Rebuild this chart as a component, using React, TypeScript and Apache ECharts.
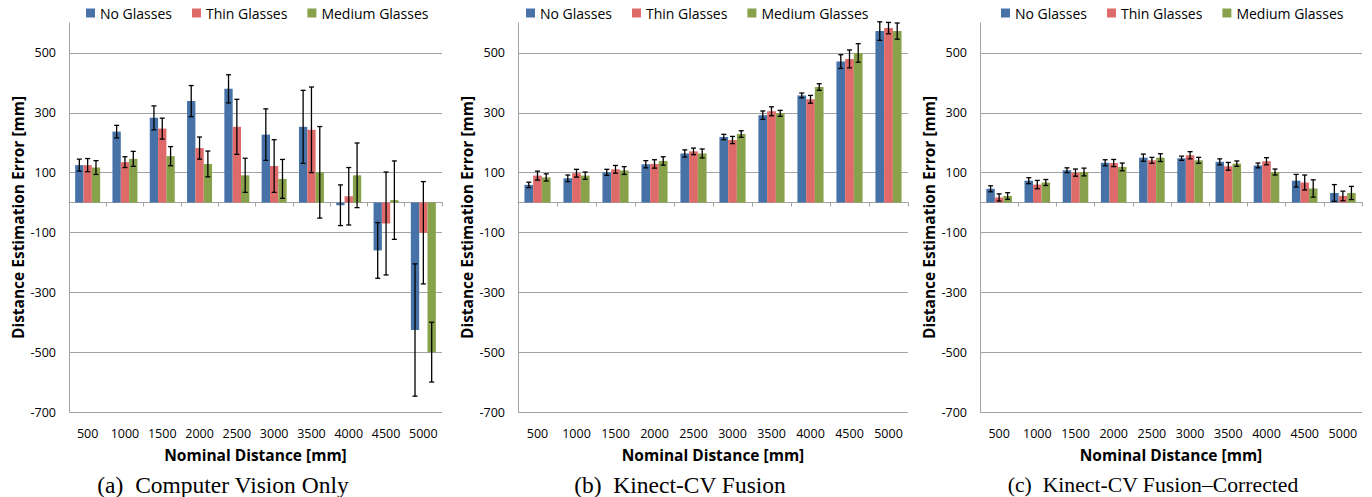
import React, { useEffect, useRef } from "react";
import * as echarts from "echarts";

const categories = ["500", "1000", "1500", "2000", "2500", "3000", "3500", "4000", "4500", "5000"];
const seriesNames = ["No Glasses", "Thin Glasses", "Medium Glasses"];
const yTicks = { min: -700, max: 600, interval: 200 };

// Panel (a) Computer Vision Only
const aNo = [125, 237, 283, 339, 380, 227, 253, -9, -160, -426];
const aNoErr = [20, 21, 40, 52, 47, 86, 122, 68, 93, 221];
const aThin = [125, 135, 247, 182, 253, 122, 243, 21, -70, -101];
const aThinErr = [22, 18, 35, 37, 92, 88, 143, 96, 172, 171];
const aMed = [117, 146, 155, 129, 91, 79, 101, 91, 8, -500];
const aMedErr = [23, 25, 32, 43, 57, 65, 153, 108, 131, 100];

// Panel (b) Kinect-CV Fusion
const bNo = [59, 81, 101, 128, 164, 219, 292, 358, 471, 573];
const bNoErr = [9, 11, 10, 12, 12, 9, 14, 8, 23, 31];
const bThin = [90, 98, 111, 129, 171, 209, 305, 345, 480, 583];
const bThinErr = [15, 13, 13, 14, 11, 12, 15, 13, 30, 19];
const bMed = [84, 90, 107, 139, 164, 229, 298, 386, 500, 573];
const bMedErr = [12, 12, 13, 14, 15, 11, 10, 11, 31, 27];

// Panel (c) Kinect-CV Fusion–Corrected
const cNo = [46, 73, 108, 133, 150, 148, 136, 124, 73, 32];
const cNoErr = [10, 10, 8, 10, 12, 7, 10, 8, 21, 28];
const cThin = [17, 60, 100, 132, 141, 158, 121, 138, 67, 22];
const cThinErr = [12, 14, 12, 12, 10, 12, 13, 12, 25, 16];
const cMed = [22, 67, 102, 119, 150, 141, 130, 102, 47, 32];
const cMedErr = [11, 10, 13, 13, 13, 10, 9, 10, 29, 22];

const captions = ["(a)\u2002Computer Vision Only", "(b)\u2002Kinect-CV Fusion", "(c)\u2002Kinect-CV Fusion\u2013Corrected"];

const COLORS = ["#4672A8", "#DE6B69", "#87A24B"];
const GRID_COLOR = "#a3a3a3";
const FONT = "'Open Sans', 'Noto Sans', sans-serif";
const GAP = 0.33;

const panels = [
  { left: 69, width: 373, legendLeft: 86, capX: 223, capSize: 23.5, vals: [aNo, aThin, aMed], errs: [aNoErr, aThinErr, aMedErr] },
  { left: 518, width: 390, legendLeft: 526, capX: 680, capSize: 23.5, vals: [bNo, bThin, bMed], errs: [bNoErr, bThinErr, bMedErr] },
  { left: 980, width: 382, legendLeft: 1001, capX: 1153, capSize: 21.7, vals: [cNo, cThin, cMed], errs: [cNoErr, cThinErr, cMedErr] },
];

function buildOption() {
  const grid: any[] = [];
  const xAxis: any[] = [];
  const yAxis: any[] = [];
  const series: any[] = [];
  const legend: any[] = [];
  const graphic: any[] = [];

  panels.forEach((p, gi) => {
    grid.push({ left: p.left, width: p.width, top: 23, bottom: 85, containLabel: false });
    // zero-line axis with boundary ticks
    xAxis.push({
      type: "category",
      gridIndex: gi,
      data: categories,
      position: "bottom",
      axisLine: { show: true, onZero: true, lineStyle: { color: GRID_COLOR, width: 1 } },
      axisTick: { show: true, length: 4, lineStyle: { color: GRID_COLOR } },
      axisLabel: { show: false },
      splitLine: { show: false },
    });
    // label axis at bottom
    xAxis.push({
      type: "category",
      gridIndex: gi,
      data: categories,
      position: "bottom",
      axisLine: { show: false, onZero: false },
      axisTick: { show: false },
      axisLabel: { show: true, margin: 15, fontSize: 12.5, fontFamily: FONT, color: "#000" },
      name: "Nominal Distance [mm]",
      nameLocation: "middle",
      nameGap: 35,
      nameTextStyle: { fontSize: 15.5, fontWeight: "bold", fontFamily: FONT, color: "#000" },
    });
    yAxis.push({
      type: "value",
      gridIndex: gi,
      min: yTicks.min,
      max: yTicks.max,
      interval: yTicks.interval,
      axisLine: { show: true, lineStyle: { color: GRID_COLOR } },
      axisTick: { show: false },
      axisLabel: { showMaxLabel: false, margin: 13, fontSize: 12.5, fontFamily: FONT, color: "#000" },
      splitLine: { show: true, showMaxLine: false, lineStyle: { color: GRID_COLOR, width: 1 } },
      name: "Distance Estimation Error [mm]",
      nameLocation: "middle",
      nameGap: 43,
      nameRotate: 90,
      nameTextStyle: { fontSize: 15.5, fontWeight: "bold", fontFamily: FONT, color: "#000" },
    });

    seriesNames.forEach((name, si) => {
      series.push({
        type: "bar",
        name,
        xAxisIndex: gi * 2,
        yAxisIndex: gi,
        data: p.vals[si],
        barGap: "0%",
        barCategoryGap: GAP * 100 + "%",
        itemStyle: { color: COLORS[si] },
        z: 2,
      });
    });
    seriesNames.forEach((name, si) => {
      const offset = si - 1;
      series.push({
        type: "custom",
        xAxisIndex: gi * 2,
        yAxisIndex: gi,
        z: 5,
        data: p.vals[si].map((v, i) => [i, v, p.errs[si][i]]),
        renderItem: (params: any, api: any) => {
          const idx = api.value(0);
          const v = api.value(1);
          const e = api.value(2);
          const top = api.coord([idx, v + e]);
          const bot = api.coord([idx, v - e]);
          const band = api.size([1, 0])[0];
          const bw = (band * (1 - GAP)) / 3;
          const x = top[0] + offset * bw;
          const cap = 2.5;
          const style = { stroke: "#000", lineWidth: 1.3 };
          return {
            type: "group",
            children: [
              { type: "line", shape: { x1: x, y1: top[1], x2: x, y2: bot[1] }, style },
              { type: "line", shape: { x1: x - cap, y1: top[1], x2: x + cap, y2: top[1] }, style },
              { type: "line", shape: { x1: x - cap, y1: bot[1], x2: x + cap, y2: bot[1] }, style },
            ],
          };
        },
      });
    });

    legend.push({
      left: p.legendLeft,
      top: 6,
      padding: 0,
      icon: "rect",
      itemWidth: 9,
      itemHeight: 9,
      itemGap: 20,
      data: seriesNames,
      textStyle: { fontSize: 14, fontFamily: FONT, color: "#000" },
      selectedMode: false,
    });

    graphic.push({
      type: "text",
      x: p.capX,
      y: 485,
      style: {
        text: captions[gi],
        font: p.capSize + "px 'Liberation Serif', 'Times New Roman', serif",
        fill: "#000",
        textAlign: "center",
        textVerticalAlign: "middle",
        verticalAlign: "middle",
      },
    });
  });

  return {
    animation: false,
    backgroundColor: "#fff",
    grid,
    xAxis,
    yAxis,
    series,
    legend,
    graphic,
  };
}

export default function App() {
  const ref = useRef<HTMLDivElement>(null);
  useEffect(() => {
    if (!ref.current) return;
    const chart = echarts.init(ref.current, undefined, { renderer: "svg" });
    chart.setOption(buildOption() as any);
    return () => chart.dispose();
  }, []);
  return (
    <div
      ref={ref}
      style={{ position: "fixed", left: 0, top: 0, width: 1372, height: 497, background: "#fff" }}
    />
  );
}
